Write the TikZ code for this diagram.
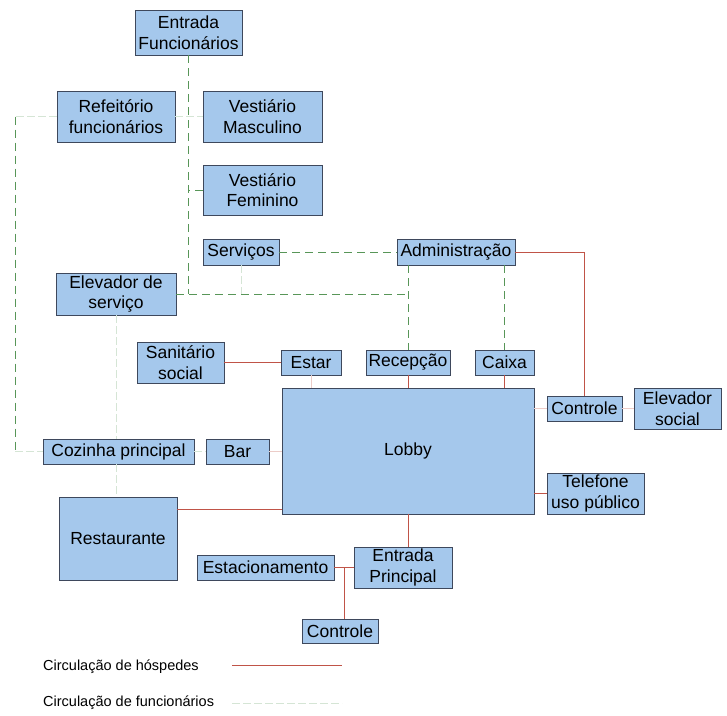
\documentclass[tikz,border=0pt]{standalone}
\usepackage{fontspec}
\setmainfont{Liberation Sans}
\usepackage{tikz}
\usetikzlibrary{positioning,calc}
\definecolor{RoomBlue}{RGB}{165,200,236}
\definecolor{RoomEdge}{RGB}{62,72,92}
\definecolor{GuestRed}{RGB}{192,84,72}
\definecolor{StaffGreen}{RGB}{88,150,88}

\begin{document}
\begin{tikzpicture}[
    x=1pt, y=-1pt,
    room/.style={rectangle, draw=RoomEdge, line width=0.7pt, fill=RoomBlue, inner sep=0pt, align=center, font=\fontsize{17.5}{20.5}\selectfont},
    guest/.style={draw=GuestRed, line width=0.8pt},
    guestfaint/.style={draw=GuestRed!30, line width=0.8pt},
    staff/.style={draw=StaffGreen, line width=0.8pt, dash pattern=on 8pt off 5pt},
    stafffaint/.style={draw=StaffGreen!25, line width=0.8pt, dash pattern=on 8pt off 3pt},
    legend/.style={anchor=west, inner sep=0pt, font=\fontsize{14.5}{17}\selectfont}
]
\useasboundingbox (0,0) rectangle (727,715);

% Place nodes
\node [room, minimum width=107pt, minimum height=45pt] (efun) at (188.5,32.5) {Entrada\\Funcionários};
\node [room, minimum width=118pt, minimum height=51pt] (refe) at (116,116.5) {Refeitório\\funcionários};
\node [room, minimum width=119pt, minimum height=51pt] (vmas) at (262.5,116.5) {Vestiário\\Masculino};
\node [room, minimum width=119pt, minimum height=50pt] (vfem) at (262.5,190) {Vestiário\\Feminino};
\node [room, minimum width=76pt, minimum height=26pt] (serv) at (241,252) {Serviços};
\node [room, minimum width=118pt, minimum height=26pt] (adm) at (456,252) {Administração};
\node [room, minimum width=120pt, minimum height=42pt] (elev) at (116,294) {Elevador de\\serviço};
\node [room, minimum width=87pt, minimum height=41pt] (sani) at (180.5,362.5) {Sanitário\\social};
\node [room, minimum width=60pt, minimum height=25pt] (estar) at (311,362.5) {Estar};
\node [room, minimum width=84pt, minimum height=25pt] (recep) at (408,362.5) {Recepção};
\node [room, minimum width=59pt, minimum height=25pt] (caixa) at (504.5,362.5) {Caixa};
\node [room, minimum width=252pt, minimum height=126pt] (lobby) at (408,451) {Lobby};
\node [room, minimum width=75pt, minimum height=25pt] (ctrl) at (584.5,408.5) {Controle};
\node [room, minimum width=87pt, minimum height=41pt] (elsoc) at (677.5,408.5) {Elevador\\social};
\node [room, minimum width=97pt, minimum height=41pt] (tel) at (595.5,493.5) {Telefone\\uso público};
\node [room, minimum width=151pt, minimum height=25pt] (coz) at (118.5,451.5) {Cozinha principal};
\node [room, minimum width=63pt, minimum height=25pt] (bar) at (237.5,451.5) {Bar};
\node [room, minimum width=118pt, minimum height=83pt] (rest) at (118,538.5) {Restaurante};
\node [room, minimum width=137pt, minimum height=25pt] (estac) at (265.5,567.5) {Estacionamento};
\node [room, minimum width=98pt, minimum height=41pt] (entp) at (403,567.5) {Entrada\\Principal};
\node [room, minimum width=76pt, minimum height=24pt] (ctrlb) at (340,631) {Controle};

% Legend
\node [legend] (lghosp) at (43,667) {Circulação de hóspedes};
\node [legend] (lgfunc) at (43,703) {Circulação de funcionários};
\coordinate (lga) at (232,665);
\coordinate (lgb) at (342,665);
\coordinate (lgc) at (232,703);
\coordinate (lgd) at (342,703);

% Staff circulation
\draw [staff] (efun.south) -- (efun.south |- elev.east);
\draw [staff] (elev.east) -- (recep.north |- elev.east);
\draw [staff] (recep.north |- adm.south) -- (recep.north);
\draw [staff] (caixa.north |- adm.south) -- (caixa.north);
\draw [staff] (serv.east) -- (adm.west);
\draw [staff] (vfem.west) -- (vfem.west -| efun.south);
\draw [stafffaint] (refe.east) -- (vmas.west);
\coordinate (ltop) at (15,116.5);
\coordinate (lbot) at (15,451.5);
\draw [stafffaint] (refe.west) -- (ltop);
\draw [staff] (ltop) -- (lbot);
\draw [stafffaint] (lbot) -- (coz.west);
\draw [stafffaint] (elev.south) -- (elev.south |- coz.north);
\draw [stafffaint] (elev.south |- coz.south) -- (elev.south |- rest.north);
\draw [stafffaint] (serv.south) -- (serv.south |- elev.east);
\draw [stafffaint] (coz.east) -- (bar.west);

% Guest circulation
\draw [guest] (adm.east) -| (ctrl.north);
\draw [guest] (sani.east) -- (estar.west);
\draw [guestfaint] (estar.south) -- (estar.south |- lobby.north);
\draw [guest] (recep.south) -- (lobby.north);
\draw [guest] (caixa.south) -- (caixa.south |- lobby.north);
\draw [guestfaint] (lobby.east |- ctrl.west) -- (ctrl.west);
\draw [guestfaint] (ctrl.east) -- (elsoc.west);
\draw [guest] (tel.west) -- (tel.west -| lobby.east);
\draw [guestfaint] (bar.east) -- (bar.east -| lobby.west);
\draw [guest] ([yshift=5pt]lobby.south west) -- ([yshift=5pt]lobby.south west -| rest.east);
\draw [guest] (lobby.south) -- (lobby.south |- entp.north);
\draw [guest] (estac.east) -- (entp.west);
\coordinate (epark) at ($(estac.east)!0.5!(entp.west)$);
\draw [guest] (epark) -- (epark |- ctrlb.north);

% Legend lines
\draw [guest] (lga) -- (lgb);
\draw [stafffaint] (lgc) -- (lgd);
\end{tikzpicture}
\end{document}
